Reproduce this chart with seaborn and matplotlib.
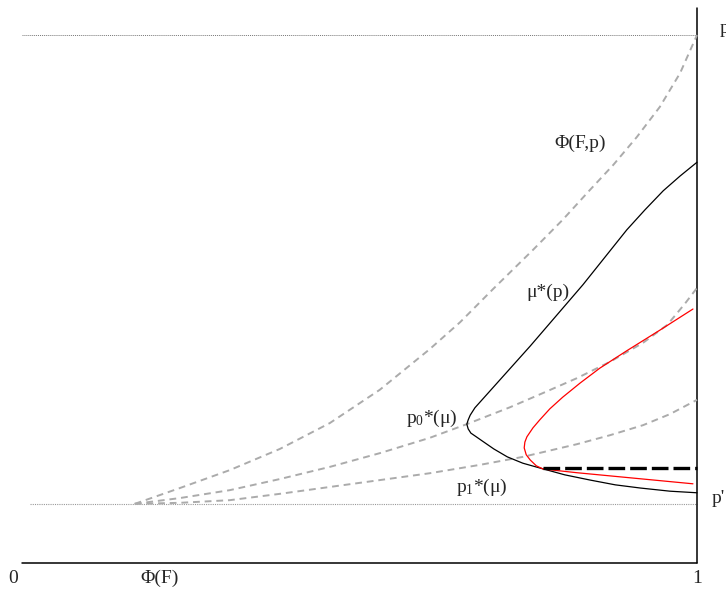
import numpy as np
import pandas as pd
import matplotlib
matplotlib.use("Agg")
import matplotlib.pyplot as plt
import seaborn as sns

# ---------------- data (unit square coordinates) ----------------
phi_x = [0.167, 0.234, 0.308, 0.382, 0.456, 0.530, 0.604, 0.649, 0.698, 0.757, 0.801, 0.841, 0.876, 0.911, 0.945, 0.975, 1.0]
phi_y = [0.112, 0.142, 0.176, 0.216, 0.265, 0.328, 0.405, 0.456, 0.519, 0.593, 0.650, 0.706, 0.754, 0.807, 0.864, 0.928, 1.0]

p0_x = [0.167, 0.234, 0.308, 0.382, 0.456, 0.530, 0.604, 0.659, 0.723, 0.772, 0.822, 0.871, 0.920, 0.956, 0.982, 1.0]
p0_y = [0.112, 0.123, 0.138, 0.159, 0.182, 0.208, 0.237, 0.263, 0.295, 0.322, 0.350, 0.381, 0.417, 0.451, 0.491, 0.521]

p1_x = [0.167, 0.234, 0.308, 0.382, 0.456, 0.530, 0.604, 0.679, 0.742, 0.822, 0.871, 0.920, 0.960, 1.0]
p1_y = [0.112, 0.114, 0.119, 0.131, 0.144, 0.157, 0.170, 0.186, 0.201, 0.225, 0.242, 0.261, 0.282, 0.309]

mu_x = [1.0, 0.975, 0.950, 0.923, 0.896, 0.831, 0.753, 0.671, 0.664, 0.661, 0.659,
        0.661, 0.665, 0.673, 0.682, 0.699, 0.719, 0.742, 0.767, 0.804, 0.842, 0.879, 0.916, 0.960, 1.0]
mu_y = [0.759, 0.733, 0.705, 0.669, 0.631, 0.527, 0.411, 0.294, 0.280, 0.271, 0.263,
        0.254, 0.246, 0.239, 0.231, 0.216, 0.201, 0.189, 0.180, 0.167, 0.157, 0.148, 0.142, 0.136, 0.133]

red_x = [0.994, 0.945, 0.896, 0.856, 0.827, 0.801, 0.782, 0.767, 0.757, 0.748, 0.745, 0.744,
         0.747, 0.753, 0.762, 0.772, 0.822, 0.994]
red_y = [0.481, 0.441, 0.402, 0.369, 0.341, 0.314, 0.292, 0.271, 0.256, 0.239, 0.229, 0.218,
         0.205, 0.195, 0.184, 0.178, 0.171, 0.150]

thick_x = [0.772, 1.0]
thick_y = [0.180, 0.180]

p_level = 1.0
p_prime_level = 0.112

# ---------------- style ----------------
sns.set_theme(style="white")
plt.rcParams["font.family"] = ["Liberation Serif", "DejaVu Serif"]
plt.rcParams["mathtext.fontset"] = "custom"
plt.rcParams["mathtext.rm"] = "Liberation Serif"
plt.rcParams["mathtext.it"] = "Liberation Serif:italic"

fig = plt.figure(figsize=(7.26, 5.92), dpi=100)
ax = fig.add_axes([0, 0, 1, 1])

gray = "#ababab"

# reference lines
ax.plot([0, 1], [p_level, p_level], color="#777777", lw=0.7, ls=(0, (1, 1)))
ax.plot([0.012, 1], [p_prime_level, p_prime_level], color="#999999", lw=0.8, ls=(0, (1, 1)))

# axes lines
ax.plot([0, 1], [0, 0], color="black", lw=1.1)
ax.plot([1, 1], [0, 1.051], color="black", lw=1.1)


def curve(x, y, **kw):
    df = pd.DataFrame({"x": x, "y": y})
    sns.lineplot(data=df, x="x", y="y", sort=False, estimator=None, ax=ax, **kw)


curve(phi_x, phi_y, color=gray, lw=1.4, dashes=(3.5, 2.5))
curve(p0_x, p0_y, color=gray, lw=1.4, dashes=(3.5, 2.5))
curve(p1_x, p1_y, color=gray, lw=1.4, dashes=(3.5, 2.5))
curve(mu_x, mu_y, color="black", lw=0.9)
curve(red_x, red_y, color="red", lw=0.9)
curve(thick_x, thick_y, color="black", lw=2.4, dashes=(5, 1.5))

ax.set_xlim(-22 / 675, 704 / 675)
ax.set_ylim(-29 / 528, 563 / 528)
ax.axis("off")

fs = 14
ax.text(0.827, 0.795, "Φ(F,p)", fontsize=fs, ha="center", va="center")
ax.text(0.779, 0.513, "μ*(p)", fontsize=fs, ha="center", va="center")
ax.text(0.607, 0.273, r"p$_\mathregular{0}$*(μ)", fontsize=fs, ha="center", va="center")
ax.text(0.681, 0.144, r"p$_\mathregular{1}$*(μ)", fontsize=fs, ha="center", va="center")
ax.text(-0.013, -0.030, "0", fontsize=fs, ha="center", va="center")
ax.text(0.204, -0.030, "Φ(F)", fontsize=fs, ha="center", va="center")
ax.text(1.0, -0.030, "1", fontsize=fs, ha="center", va="center")
ax.text(1.034, 1.013, "p", fontsize=fs, ha="left", va="center")
ax.text(1.022, 0.123, "p'", fontsize=fs, ha="left", va="center")

fig.savefig("out.png", dpi=100)
